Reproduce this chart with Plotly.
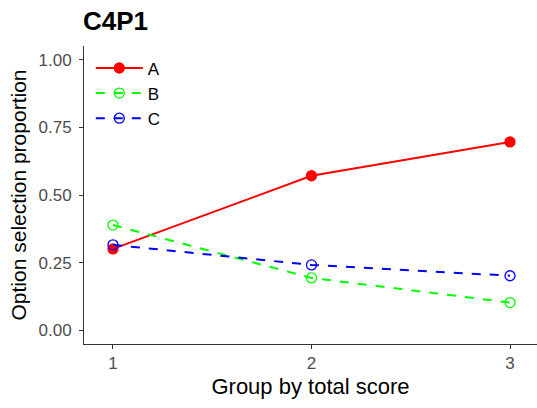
import plotly.graph_objects as go

groups = [1, 2, 3]
series_names = ["A", "B", "C"]
values_A = [0.301, 0.571, 0.696]
values_B = [0.389, 0.194, 0.103]
values_C = [0.316, 0.242, 0.202]
y_ticks = [0.0, 0.25, 0.5, 0.75, 1.0]
y_tick_labels = ["0.00", "0.25", "0.50", "0.75", "1.00"]

fig = go.Figure()
styles = [
    ("A", values_A, "#FF0000", "solid", "circle"),
    ("B", values_B, "#00FF00", "dash", "circle-open"),
    ("C", values_C, "#0000FF", "dash", "circle-open"),
]
for name, vals, col, dash, sym in styles:
    fig.add_trace(go.Scatter(
        x=groups, y=vals, name=name, mode="lines+markers",
        line=dict(color=col, width=2, dash=dash),
        marker=dict(color=col, size=10, symbol=sym, line=dict(color=col, width=1.3)),
    ))

fig.update_layout(
    width=537, height=408,
    margin=dict(l=84, r=0, t=46, b=64, autoexpand=False),
    paper_bgcolor="white", plot_bgcolor="white",
    font=dict(family="Arial, Liberation Sans, sans-serif", color="#000000"),
    title=dict(text="<b>C4P1</b>", x=83/537, xanchor="left", y=1-21/408, yanchor="middle",
               font=dict(size=26, color="#000000")),
    showlegend=True,
    legend=dict(x=0.015, y=0.985, xanchor="left", yanchor="top", bgcolor="rgba(0,0,0,0)",
                font=dict(size=17), tracegroupgap=0, itemwidth=47),
    xaxis=dict(range=[0.854, 3.136], tickvals=groups, ticktext=[str(g) for g in groups],
               automargin=False,
               showgrid=False, zeroline=False, showline=True, linecolor="#333333", linewidth=1,
               ticks="outside", ticklen=4, tickcolor="#333333",
               tickfont=dict(size=17, color="#4D4D4D"),
               title=dict(text="Group by total score", font=dict(size=22), standoff=6)),
    yaxis=dict(range=[-0.05, 1.05], tickvals=y_ticks, ticktext=y_tick_labels,
               automargin=False,
               showgrid=False, zeroline=False, showline=True, linecolor="#333333", linewidth=1,
               ticks="outside", ticklen=4, tickcolor="#333333", ticklabelstandoff=4,
               tickfont=dict(size=17, color="#4D4D4D"),
               title=dict(text="Option selection proportion", font=dict(size=21), standoff=6)),
)

fig.write_html("out.html", config={"displayModeBar": False},
               post_script="document.body.style.margin='0';document.body.style.padding='0';")
